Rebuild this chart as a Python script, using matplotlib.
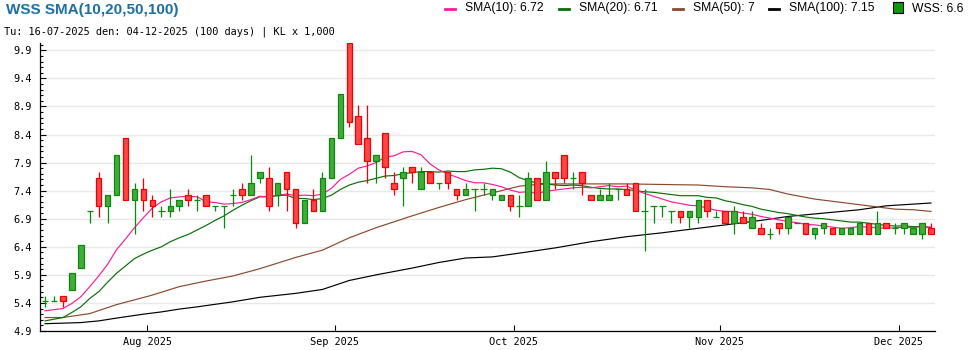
import numpy as np
import matplotlib
matplotlib.use("Agg")
import matplotlib.pyplot as plt
from matplotlib.lines import Line2D
from matplotlib.patches import Rectangle
from matplotlib.ticker import FixedLocator, FixedFormatter

# WSS, 100 phien tu 16-07-2025 den 04-12-2025 (gia x 1,000)
opens = [5.4, 5.4, 5.5, 5.6, 6.0, 7.0, 7.6, 7.1, 7.3, 8.3,
         7.2, 7.4, 7.2, 7.0, 7.0, 7.1, 7.3, 7.2, 7.3, 7.1,
         7.1, 7.3, 7.4, 7.3, 7.6, 7.6, 7.3, 7.7, 7.4, 6.8,
         7.2, 7.0, 7.6, 8.3, 10.0, 8.7, 8.3, 7.9, 8.4, 7.5,
         7.6, 7.8, 7.4, 7.7, 7.5, 7.7, 7.4, 7.3, 7.4, 7.4,
         7.3, 7.2, 7.3, 7.1, 7.1, 7.6, 7.2, 7.7, 8.0, 7.6,
         7.7, 7.3, 7.2, 7.2, 7.4, 7.4, 7.5, 7.0, 7.1, 7.1,
         7.0, 7.0, 6.9, 6.9, 7.2, 6.9, 7.0, 6.8, 6.9, 6.7,
         6.7, 6.6, 6.8, 6.7, 6.8, 6.8, 6.6, 6.7, 6.7, 6.6,
         6.6, 6.6, 6.8, 6.6, 6.8, 6.7, 6.7, 6.6, 6.6, 6.7]
highs = [5.5, 5.5, 5.5, 5.9, 6.4, 7.0, 7.7, 7.3, 8.0, 8.3,
         7.5, 7.6, 7.3, 7.1, 7.4, 7.2, 7.4, 7.3, 7.3, 7.1,
         7.1, 7.4, 7.5, 8.0, 7.7, 7.8, 7.5, 7.7, 7.4, 7.2,
         7.4, 7.7, 8.3, 9.1, 10.0, 8.9, 8.9, 8.0, 8.4, 7.7,
         7.8, 7.8, 7.8, 7.7, 7.5, 7.7, 7.4, 7.5, 7.4, 7.5,
         7.4, 7.3, 7.3, 7.3, 7.7, 7.6, 7.9, 7.7, 8.0, 7.7,
         7.7, 7.3, 7.4, 7.5, 7.4, 7.5, 7.5, 7.4, 7.1, 7.1,
         7.0, 7.0, 7.0, 7.2, 7.2, 7.0, 7.0, 7.1, 7.0, 7.0,
         6.8, 6.7, 6.8, 6.9, 6.8, 6.8, 6.7, 6.8, 6.7, 6.7,
         6.7, 6.8, 6.8, 7.0, 6.8, 6.8, 6.8, 6.7, 6.8, 6.8]
lows = [5.3, 5.4, 5.3, 5.6, 6.0, 6.8, 6.9, 6.8, 7.3, 7.2,
        6.6, 7.0, 6.9, 6.9, 6.9, 7.0, 7.1, 7.0, 7.1, 7.0,
        6.7, 7.1, 7.2, 7.3, 7.5, 7.0, 7.1, 7.0, 6.7, 6.8,
        7.0, 7.0, 7.6, 8.3, 8.5, 8.2, 7.5, 7.5, 7.6, 7.3,
        7.1, 7.5, 7.4, 7.5, 7.4, 7.4, 7.2, 7.3, 7.0, 7.3,
        7.2, 7.2, 7.0, 6.9, 7.1, 7.2, 7.2, 7.4, 7.5, 7.4,
        7.3, 7.2, 7.2, 7.2, 7.2, 7.3, 7.0, 6.3, 6.8, 6.9,
        6.8, 6.8, 6.7, 6.8, 6.9, 6.9, 6.8, 6.6, 6.8, 6.7,
        6.6, 6.5, 6.6, 6.6, 6.8, 6.6, 6.5, 6.6, 6.6, 6.6,
        6.6, 6.6, 6.6, 6.6, 6.7, 6.6, 6.6, 6.6, 6.5, 6.6]
closes = [5.4, 5.4, 5.4, 5.9, 6.4, 7.0, 7.1, 7.3, 8.0, 7.2,
          7.4, 7.2, 7.1, 7.0, 7.1, 7.2, 7.2, 7.2, 7.1, 7.1,
          7.1, 7.3, 7.3, 7.5, 7.7, 7.1, 7.5, 7.4, 6.8, 7.2,
          7.0, 7.6, 8.3, 9.1, 8.6, 8.2, 7.9, 8.0, 7.8, 7.4,
          7.7, 7.7, 7.7, 7.5, 7.5, 7.5, 7.3, 7.4, 7.4, 7.4,
          7.4, 7.3, 7.1, 7.1, 7.6, 7.2, 7.7, 7.6, 7.6, 7.6,
          7.5, 7.2, 7.3, 7.3, 7.4, 7.3, 7.0, 7.0, 7.1, 7.1,
          7.0, 6.9, 7.0, 7.2, 7.0, 6.9, 6.8, 7.0, 6.8, 6.9,
          6.6, 6.6, 6.7, 6.9, 6.8, 6.6, 6.7, 6.8, 6.6, 6.7,
          6.7, 6.8, 6.6, 6.8, 6.7, 6.7, 6.8, 6.7, 6.8, 6.6]

sma10 = [5.23, 5.25, 5.27, 5.36, 5.48, 5.66, 5.85, 6.06, 6.32, 6.51,
         6.71, 6.89, 7.06, 7.17, 7.24, 7.26, 7.27, 7.26, 7.17, 7.16,
         7.13, 7.14, 7.16, 7.21, 7.27, 7.26, 7.29, 7.31, 7.28, 7.29,
         7.28, 7.31, 7.41, 7.57, 7.66, 7.77, 7.81, 7.87, 7.97, 7.99,
         8.06, 8.07, 8.01, 7.85, 7.74, 7.67, 7.61, 7.55, 7.51, 7.51,
         7.48, 7.44, 7.38, 7.34, 7.35, 7.32, 7.36, 7.38, 7.40, 7.42,
         7.43, 7.42, 7.44, 7.46, 7.44, 7.45, 7.38, 7.32, 7.27, 7.22,
         7.17, 7.14, 7.11, 7.10, 7.06, 7.02, 7.00, 7.00, 6.97, 6.95,
         6.91, 6.88, 6.85, 6.82, 6.80, 6.77, 6.76, 6.74, 6.72, 6.70,
         6.71, 6.73, 6.72, 6.71, 6.70, 6.71, 6.72, 6.71, 6.73, 6.72]
sma20 = [5.05, 5.08, 5.11, 5.20, 5.30, 5.45, 5.57, 5.74, 5.90, 6.03,
         6.16, 6.24, 6.31, 6.37, 6.46, 6.53, 6.59, 6.67, 6.75, 6.84,
         6.92, 7.02, 7.11, 7.19, 7.26, 7.26, 7.28, 7.29, 7.23, 7.23,
         7.21, 7.23, 7.29, 7.39, 7.47, 7.52, 7.55, 7.59, 7.63, 7.64,
         7.67, 7.69, 7.71, 7.71, 7.70, 7.72, 7.71, 7.71, 7.74, 7.75,
         7.77, 7.76, 7.70, 7.60, 7.55, 7.50, 7.49, 7.47, 7.46, 7.47,
         7.46, 7.43, 7.41, 7.40, 7.40, 7.39, 7.37, 7.35, 7.34, 7.32,
         7.30, 7.28, 7.28, 7.28, 7.25, 7.24, 7.19, 7.16, 7.12, 7.09,
         7.04, 7.01, 6.98, 6.96, 6.93, 6.90, 6.88, 6.87, 6.85, 6.83,
         6.81, 6.81, 6.79, 6.77, 6.75, 6.74, 6.74, 6.73, 6.73, 6.71]
sma50_day = [0, 2, 5, 8, 12, 15, 18, 21, 24, 28, 31, 34, 37, 41, 44, 47, 50,
             53, 55, 57, 61, 65, 69, 73, 76, 79, 81, 83, 86, 89, 92, 95, 97, 99]
sma50 = [5.11, 5.11, 5.18, 5.34, 5.51, 5.66, 5.76, 5.85, 5.98, 6.18, 6.31, 6.53,
         6.71, 6.92, 7.07, 7.21, 7.33, 7.45, 7.48, 7.49, 7.49, 7.49, 7.48, 7.47,
         7.44, 7.42, 7.39, 7.31, 7.22, 7.16, 7.10, 7.04, 7.03, 7.00]
sma100_day = [0, 4, 6, 8, 11, 13, 15, 17, 21, 24, 28, 31, 34, 37, 41, 44, 47,
              50, 54, 57, 61, 65, 69, 73, 76, 80, 83, 87, 91, 94, 99]
sma100 = [5.00, 5.02, 5.05, 5.10, 5.17, 5.21, 5.26, 5.30, 5.39, 5.47, 5.54,
          5.61, 5.77, 5.87, 5.99, 6.09, 6.17, 6.19, 6.28, 6.35, 6.46, 6.55,
          6.62, 6.70, 6.76, 6.84, 6.91, 6.97, 7.03, 7.10, 7.15]

month_labels = ["Aug 2025", "Sep 2025", "Oct 2025", "Nov 2025", "Dec 2025"]
month_first_day = [12, 33, 53, 76, 96]   # index phien dau thang

y_min, y_max = 4.87, 10.0

UP_FILL, UP_EDGE = "#44aa3c", "#0a8a0a"
DN_FILL, DN_EDGE = "#ff4646", "#f00000"
C10, C20, C50, C100 = "#ff1a9c", "#0a6e0a", "#8b4a2b", "#000000"

plt.rcParams["font.family"] = ["DejaVu Sans Mono"]

fig = plt.figure(figsize=(9.7, 3.5), dpi=100)
ax = fig.add_axes([40 / 970, 19 / 350, 895 / 970, 288 / 350])

x = np.arange(len(closes))
o = np.array(opens); h = np.array(highs); l = np.array(lows); c = np.array(closes)

# SMA lines
ax.plot(sma100_day, sma100, color=C100, lw=0.85, zorder=2)
ax.plot(sma50_day, sma50, color=C50, lw=0.85, zorder=2)
ax.plot(x, sma20, color=C20, lw=0.85, zorder=2)
ax.plot(x, sma10, color=C10, lw=0.85, zorder=2)

# candles
up = c >= o
edge = np.where(up, UP_EDGE, DN_EDGE)
fill = np.where(up, UP_FILL, DN_FILL)
ax.vlines(x, l, h, colors=edge, lw=0.9, zorder=3)
body = np.abs(c - o)
has_body = body > 1e-9
ax.bar(x[has_body], body[has_body], bottom=np.minimum(o, c)[has_body], width=0.62,
       color=fill[has_body], edgecolor=edge[has_body], linewidth=0.9, zorder=4)
ax.hlines(o[~has_body], x[~has_body] - 0.36, x[~has_body] + 0.36,
          colors=edge[~has_body], lw=0.9, zorder=4)

# axes
ax.set_xlim(-0.56, len(closes) - 0.55)
ax.set_ylim(y_min, y_max)
major = y_min + 0.5 * np.arange(11)
ax.yaxis.set_major_locator(FixedLocator(major))
ax.yaxis.set_major_formatter(FixedFormatter(["%.1f" % v for v in major]))
ax.yaxis.set_minor_locator(FixedLocator(y_min + 0.1 * np.arange(52)))
ax.set_xticks(np.array(month_first_day) - 0.6)
ax.set_xticklabels(month_labels)
ax.tick_params(axis="y", which="major", direction="in", length=4, width=0.8,
               labelsize=7.4, pad=6)
ax.tick_params(axis="y", which="minor", direction="in", length=2.5, width=0.8)
ax.tick_params(axis="x", direction="in", length=4.5, width=0.8, labelsize=7.4, pad=4)
for s in ("top", "right"):
    ax.spines[s].set_visible(False)
for s in ("left", "bottom"):
    ax.spines[s].set_linewidth(0.9)
ax.yaxis.grid(True, which="major", color="#e8e8e8", lw=1.0)
ax.set_axisbelow(True)

# header
fig.text(6 / 970, 1 - 10 / 350, "WSS SMA(10,20,50,100)", fontsize=11,
         fontweight="bold", color="#1d6fa5", family="Liberation Sans", va="center")
fig.text(4 / 970, 1 - 31.5 / 350,
         "Tu: 16-07-2025 den: 04-12-2025 (100 days) | KL x 1,000",
         fontsize=7.4, va="center", family="DejaVu Sans Mono")

# legend
ly = 1 - 8.5 / 350
items = [(445, C10, "SMA(10): %g" % round(sma10[-1], 2)),
         (559, C20, "SMA(20): %g" % round(sma20[-1], 2)),
         (673, C50, "SMA(50): %g" % round(sma50[-1], 2)),
         (769, C100, "SMA(100): %g" % round(sma100[-1], 2))]
for px, col, lab in items:
    fig.add_artist(Line2D([px / 970, (px + 10) / 970], [ly, ly], color=col, lw=2,
                          transform=fig.transFigure))
    fig.text((px + 20) / 970, ly, lab, fontsize=8.7, family="Liberation Sans",
             va="center")
fig.add_artist(Rectangle((893 / 970, 1 - 12.5 / 350), 10 / 970, 10 / 350,
                         facecolor="#0a9a0a", edgecolor="black", lw=0.8,
                         transform=fig.transFigure))
fig.text(912 / 970, ly, "WSS: %g" % closes[-1], fontsize=8.7,
         family="Liberation Sans", va="center")

fig.savefig("out.png", dpi=100)
